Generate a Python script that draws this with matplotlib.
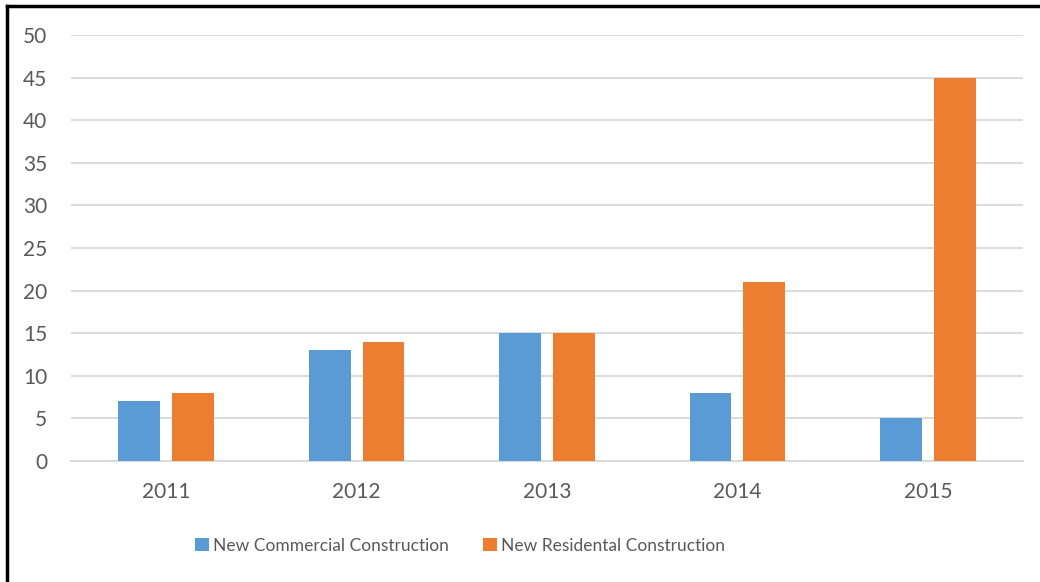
import numpy as np
import matplotlib.pyplot as plt
from matplotlib.lines import Line2D

years = ["2011", "2012", "2013", "2014", "2015"]
commercial = [7, 13, 15, 8, 5]
residential = [8, 14, 15, 21, 45]

blue = "#5B9BD5"
orange = "#ED7D31"
text_color = "#595959"

plt.rcParams['font.family'] = ['Lato', 'DejaVu Sans']

fig = plt.figure(figsize=(10.4, 5.82), dpi=100)
ax = fig.add_axes([71 / 1040, 1 - 461 / 582, 952 / 1040, 426 / 582])

x = np.arange(len(years))
w = 0.22
gap = 0.063
ax.bar(x - (w + gap) / 2, commercial, w, color=blue, label="New Commercial Construction", zorder=3)
ax.bar(x + (w + gap) / 2, residential, w, color=orange, label="New Residental Construction", zorder=3)

ax.set_xlim(-0.5, len(years) - 0.5)
ax.set_ylim(0, 50)
ax.set_yticks(range(0, 51, 5))
ax.set_xticks(x)
ax.set_xticklabels(years)
ax.yaxis.grid(True, color="#D9D9D9", linewidth=1.3, zorder=0)
for s in ["top", "right", "left"]:
    ax.spines[s].set_visible(False)
ax.spines["bottom"].set_color("#D9D9D9")
ax.spines["bottom"].set_linewidth(1.3)
ax.tick_params(axis="both", length=0, labelsize=15, colors=text_color)
ax.tick_params(axis="y", pad=17)
ax.tick_params(axis="x", pad=15)

leg = fig.legend(loc="center left", bbox_to_anchor=(195 / 1040, 1 - 546 / 582), ncol=2, frameon=False,
                 fontsize=12.5, handlelength=0.78, handleheight=0.78, handletextpad=0.25,
                 columnspacing=2.0, borderpad=0, borderaxespad=0)
for t in leg.get_texts():
    t.set_color(text_color)

# outer frame (left and top edges visible)
fig.add_artist(Line2D([6.5 / 1040, 6.5 / 1040], [0, 1 - 5.5 / 582], color="black", linewidth=2.5))
fig.add_artist(Line2D([6.5 / 1040, 1], [1 - 5.5 / 582, 1 - 5.5 / 582], color="black", linewidth=2.5))

fig.savefig("out.png", dpi=100)
